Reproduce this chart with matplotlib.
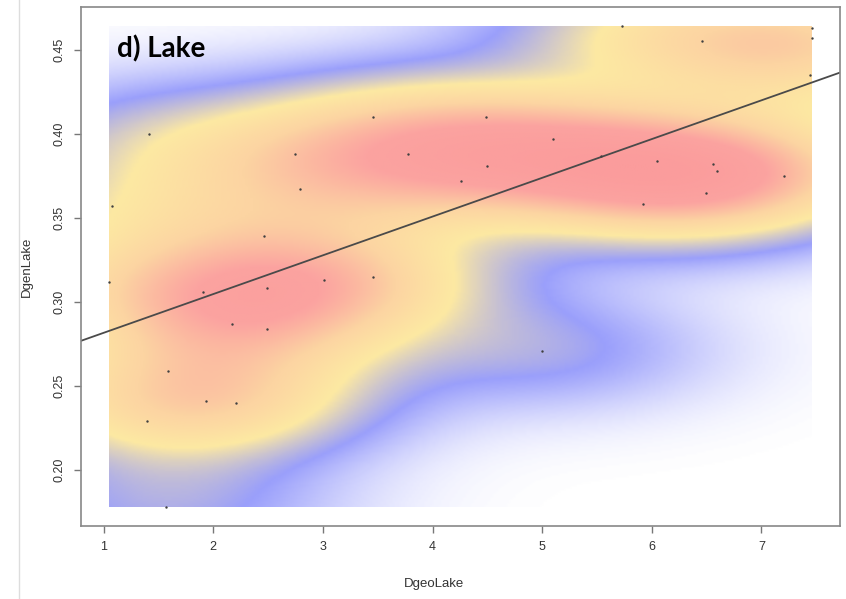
import numpy as np
import matplotlib
matplotlib.use("Agg")
import matplotlib.pyplot as plt
from matplotlib.colors import LinearSegmentedColormap

#------------------------------------------------ data ------------------------------------------------
DgeoLake = [3.46, 1.41, 2.75, 3.78, 4.26, 2.79, 1.08, 2.46, 5.73, 7.46,
            6.46, 7.46, 7.44, 4.49, 5.10, 5.54, 6.05, 4.50, 6.56, 6.59,
            7.21, 6.49, 5.92, 1.05, 1.91, 2.49, 3.01, 3.46, 2.17, 2.49,
            1.59, 1.93, 2.21, 1.40, 1.57, 5.00]
DgenLake = [0.410, 0.400, 0.388, 0.388, 0.372, 0.367, 0.357, 0.339, 0.464, 0.463,
            0.455, 0.457, 0.435, 0.410, 0.397, 0.387, 0.384, 0.381, 0.382, 0.378,
            0.375, 0.365, 0.358, 0.312, 0.306, 0.308, 0.313, 0.315, 0.287, 0.284,
            0.259, 0.241, 0.240, 0.229, 0.178, 0.271]
xticks = [1, 2, 3, 4, 5, 6, 7]
yticks = [0.20, 0.25, 0.30, 0.35, 0.40, 0.45]
panel_label = "d) Lake"

x = np.array(DgeoLake)
y = np.array(DgenLake)

#------------------------------------------------ smoothed density (like R smoothScatter) ------------------------------------------------
nbin = 256
gx = np.linspace(x.min(), x.max(), nbin)
gy = np.linspace(y.min(), y.max(), nbin)
GX, GY = np.meshgrid(gx, gy)
hx, hy = 1.0, 0.023                        # kernel bandwidths
dens = np.zeros_like(GX)
for xi, yi in zip(x, y):
    dens += np.exp(-0.5 * (((GX - xi) / hx) ** 2 + ((GY - yi) / hy) ** 2))
dens = dens / dens.max()
dens = dens ** 0.75

cmap = LinearSegmentedColormap.from_list(
    "wbyr", [(0.0, "#ffffff"), (0.22, "#9a9ffb"), (0.42, "#fde9a2"), (0.6, "#fcd4a2"),
             (0.8, "#fba3a0"), (1.0, "#fb9c9c")])

#------------------------------------------------ figure ------------------------------------------------
plt.rcParams['font.family'] = ['Liberation Sans', 'DejaVu Sans']
fig = plt.figure(figsize=(8.46, 5.99), dpi=100)
ax = fig.add_axes([81 / 846, 1 - 526 / 599, 759 / 846, 519 / 599])

ax.imshow(dens, origin="lower", extent=[x.min(), x.max(), y.min(), y.max()],
          cmap=cmap, vmin=0, vmax=1, aspect="auto", interpolation="bilinear", zorder=1)
ax.scatter(x, y, s=3, color="#404040", linewidths=0, zorder=3)

# regression line
slope, intercept = np.polyfit(x, y, 1)
ax.axline((0, intercept), slope=slope, color="#4a4a4a", linewidth=1.3, zorder=2)

# R style limits (4% padding)
padx = 0.04 * (x.max() - x.min())
pady = 0.04 * (y.max() - y.min())
ax.set_xlim(x.min() - padx, x.max() + padx)
ax.set_ylim(y.min() - pady, y.max() + pady)

ax.set_xticks(xticks)
ax.set_yticks(yticks)
ax.set_xticklabels([str(t) for t in xticks])
ax.set_yticklabels(["%.2f" % t for t in yticks], rotation=90, va="center")
ax.tick_params(length=5, width=1, color="#777777", labelcolor="#333333",
               labelsize=9, pad=6)
for s in ax.spines.values():
    s.set_color("#888888")
    s.set_linewidth(1.2)

ax.set_xlabel("DgeoLake", fontsize=9.5, color="#333333")
ax.set_ylabel("DgenLake", fontsize=9.5, color="#333333")
ax.xaxis.set_label_coords((434 - 81) / 759, -(578 - 526) / 519)
ax.yaxis.set_label_coords(-(81 - 33) / 759, 0.5)

ax.text(117 / 846, 1 - 49 / 599, panel_label, transform=fig.transFigure,
        fontsize=20, fontweight="bold", family="Lato", color="black", va="center")

# faint slide border at the left
fig.add_artist(plt.Line2D([19 / 846, 19 / 846], [0, 1], transform=fig.transFigure,
                          color="#dddddd", linewidth=1))

fig.savefig("out.png", dpi=100)
